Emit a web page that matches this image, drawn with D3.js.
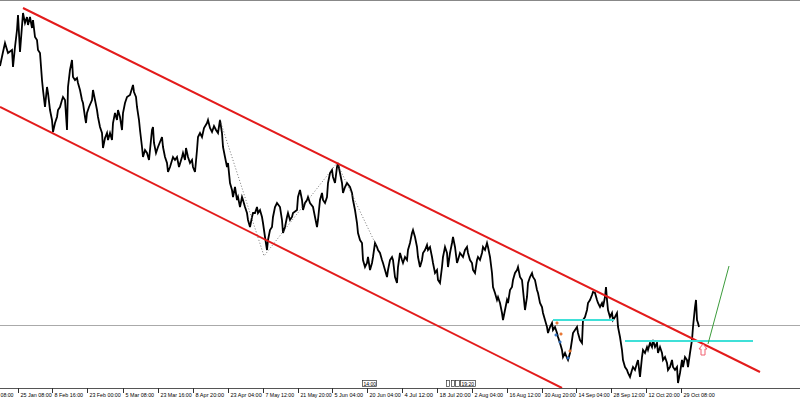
<!DOCTYPE html>
<html><head><meta charset="utf-8">
<script src="https://cdn.jsdelivr.net/npm/d3@7"></script>
<style>html,body{margin:0;padding:0;background:#fff;}svg{display:block;}</style>
</head><body>
<script>
// price series: [bar index, price]
const series = [
[0,334],[3,348],[5,357],[8,347],[12,350],[13,333],[15,353],[17,370],[18,385],[20,348],[23,387],[25,377],[27,383],[28,375],[30,383],[32,372],[33,380],[35,363],[37,360],[38,350],[40,347],[42,320],[43,310],[45,293],[47,313],[48,307],[50,290],[52,280],[53,268],[55,277],[57,283],[58,290],[60,293],[62,300],[63,303],[65,300],[67,270],[68,313],[70,330],[72,340],[73,323],[75,320],[77,322],[78,317],[80,310],[82,300],[83,297],[85,283],[86,277],[87,287],[89,293],[92,300],[93,310],[95,300],[97,290],[98,283],[100,273],[102,267],[103,252],[105,262],[107,267],[108,260],[110,267],[112,260],[113,277],[115,287],[117,280],[118,290],[120,283],[122,270],[123,287],[125,297],[127,303],[130,305],[133,315],[134,308],[136,303],[137,293],[139,280],[140,270],[142,253],[143,243],[145,250],[147,247],[149,240],[152,270],[153,273],[154,257],[156,247],[158,253],[162,263],[163,253],[165,243],[167,237],[168,228],[170,233],[173,243],[175,240],[177,243],[179,233],[182,243],[183,247],[185,240],[186,252],[188,243],[190,237],[192,240],[193,233],[195,228],[197,250],[198,263],
[200,267],[202,263],[204,272],[207,277],[208,280],[210,272],[212,268],[214,274],[216,270],[218,267],[220,280],[222,267],[223,253],[225,243],[227,233],[228,237],[230,217],[232,210],[233,203],[235,213],[237,200],[238,203],[240,193],[242,203],[243,200],[245,193],[247,187],[248,180],[250,173],[252,183],[253,187],[255,187],[257,193],[258,187],[260,190],[262,183],[263,177],[265,163],[267,150],[268,160],[270,170],[272,173],[273,183],[275,193],[277,197],[280,193],[282,180],[283,167],[285,173],[287,183],[288,187],[290,180],[292,183],[293,187],[297,190],[298,203],[300,210],[302,200],[303,190],[305,197],[307,200],[308,203],[310,197],[313,193],[315,183],[317,173],[318,180],[320,200],[322,207],[323,200],[325,197],[327,203],[328,217],[330,227],[332,230],[333,223],[335,217],[337,233],[338,237],[340,227],[342,217],[343,207],[345,213],[347,217],[350,213],[352,207],[353,200],[355,190],[357,177],[358,167],[360,160],[362,157],[363,140],[365,133],[367,137],[368,143],[370,130],[372,137],[373,143],[375,157],[377,153],[378,150],[380,147],[382,140],[383,137],[385,130],[387,123],[388,130],[390,140],[392,143],[393,140],[395,123],[397,117],[398,133],
[400,147],[402,140],[403,137],[405,143],[407,140],[408,150],[410,157],[412,167],[413,170],[415,163],[417,153],[418,143],[420,133],[422,140],[423,147],[425,150],[427,155],[428,150],[430,153],[432,143],[433,137],[435,127],[437,130],[438,120],[440,117],[442,133],[443,143],[445,153],[447,147],[448,133],[450,147],[452,157],[453,163],[455,153],[457,137],[458,140],[460,147],[463,143],[465,150],[467,153],[468,147],[470,140],[472,137],[473,130],[475,127],[477,140],[478,143],[480,140],[482,147],[483,153],[485,150],[487,157],[488,153],[490,143],[492,127],[493,113],[495,107],[497,100],[498,103],[500,97],[502,87],[503,80],[505,90],[507,100],[508,97],[510,110],[512,113],[513,120],[515,127],[517,130],[518,133],[520,123],[522,120],[523,110],[525,90],[527,103],[528,117],[530,123],[532,127],[533,123],[535,120],[537,110],[538,107],[540,97],[542,93],[543,87],[545,80],[547,73],[548,67],[550,73],[552,77],[553,70],[555,73],[557,67],[558,63],[560,57],[562,50],[563,43],[565,47],[567,42],[568,40],[570,47],[572,60],[573,67],[575,70],[577,73],[578,67],[580,60],[582,57],[583,80],[585,83],[587,90],[588,97],[590,100],[592,105],[593,108],[595,107],[597,100],[598,97],
[600,93],[602,97],[603,93],[605,103],[606,113],[607,100],[608,90],[610,83],[612,87],[613,80],[615,83],[617,87],[618,73],[620,63],[622,50],[623,40],[625,33],[627,30],[628,27],[630,23],[632,30],[633,33],[635,30],[637,37],[638,40],[640,23],[642,43],[643,50],[645,47],[647,53],[648,50],[650,57],[652,53],[653,60],[655,53],[657,57],[658,47],[660,53],[662,47],[663,40],[665,43],[667,37],[668,30],[670,33],[672,40],[673,33],[675,30],[677,33],[678,17],[680,27],[682,40],[683,33],[685,43],[687,40],[688,33],[690,47],[692,60],[693,73],[695,93],[696,100],[697,80],[698,77],[699,73]
];

const tickBars = [-17,18,52,87,123,158,193,228,263,298,332,367,402,437,472,507,542,576,611,646,681];
const tickLabels = ["08:00","25 Jan 08:00","8 Feb 16:00","23 Feb 00:00","5 Mar 08:00","23 Mar 16:00","8 Apr 20:00","23 Apr 04:00","7 May 12:00","21 May 20:00","5 Jun 04:00","20 Jun 04:00","4 Jul 12:00","18 Jul 20:00","2 Aug 04:00","16 Aug 12:00","30 Aug 20:00","14 Sep 04:00","28 Sep 12:00","12 Oct 20:00","29 Oct 08:00"];

const channelUpper = [[23,392],[760,28]];
const channelLower = [[0,293],[562,12]];
const bidLevel = 75;
const cyanLines = [[553,614,80],[625,753,59]];
const greenLine = [[708,56],[729,134]];
const zigzag = [[220,280],[264,144],[337,237],[377,153]];
const buyMarks = [[557,77],[561,66],[570,49]];
const sellMarks = [[556,65],[560,58],[568,42]];
const arrowMark = [703,56];

const W = 800, H = 400, plotB = 388;
const x = d3.scaleLinear().domain([0, 800]).range([0, W]);
const y = d3.scaleLinear().domain([12, 400]).range([plotB, 0]);

const svg = d3.select("body").append("svg").attr("width", W).attr("height", H);
svg.append("defs").append("clipPath").attr("id","plot")
  .append("rect").attr("x",0).attr("y",0).attr("width",W).attr("height",plotB);

const g = svg.append("g").attr("clip-path","url(#plot)");

// top frame
svg.append("line").attr("x1",0).attr("x2",W).attr("y1",0.5).attr("y2",0.5).attr("stroke","#888").attr("stroke-width",1);

// bid line
g.append("line").attr("x1",0).attr("x2",W).attr("y1",y(bidLevel)+0.5).attr("y2",y(bidLevel)+0.5)
  .attr("stroke","#aaa").attr("stroke-width",1);

// price
const line = d3.line().x(d=>x(d[0])).y(d=>y(d[1]));
g.append("path").datum(series).attr("d",line).attr("fill","none").attr("stroke","#000").attr("stroke-width",1.8).attr("stroke-linejoin","miter");

// zigzag dotted
g.append("path").datum(zigzag).attr("d",line).attr("fill","none").attr("stroke","#555").attr("stroke-width",0.8).attr("stroke-dasharray","1,2");

// channels
[channelUpper, channelLower].forEach(c=>{
  g.append("path").datum(c).attr("d",line).attr("fill","none").attr("stroke","#e31b1b").attr("stroke-width",2);
});

// cyan lines
cyanLines.forEach(c=>{
  g.append("line").attr("x1",x(c[0])).attr("x2",x(c[1])).attr("y1",y(c[2])).attr("y2",y(c[2]))
   .attr("stroke","#3fe0d8").attr("stroke-width",2);
});

// green line
g.append("path").datum(greenLine).attr("d",line).attr("fill","none").attr("stroke","#3c9c3c").attr("stroke-width",1);

// markers
buyMarks.forEach(m=>{
  g.append("path").attr("d",`M${x(m[0])-1.5},${y(m[1])}h3M${x(m[0])},${y(m[1])-1.5}v3`).attr("stroke","#e8702a").attr("stroke-width",1.5);
});
sellMarks.forEach(m=>{
  g.append("path").attr("d",`M${x(m[0])-1.5},${y(m[1])}h3M${x(m[0])},${y(m[1])-1.5}v3`).attr("stroke","#3070c0").attr("stroke-width",1.5);
});

// hollow up arrow
{
  const ax = x(arrowMark[0]), ay = y(arrowMark[1]);
  g.append("path").attr("d",`M${ax},${ay} L${ax+4},${ay+5} L${ax+2},${ay+5} L${ax+2},${ay+11} L${ax-2},${ay+11} L${ax-2},${ay+5} L${ax-4},${ay+5} Z`)
    .attr("fill","#fff").attr("stroke","#f06070").attr("stroke-width",1);
}

// axis
svg.append("line").attr("x1",0).attr("x2",W).attr("y1",plotB+0.5).attr("y2",plotB+0.5).attr("stroke","#555");
const ax = svg.append("g");
tickBars.forEach((b,i)=>{
  const tx = Math.round(x(b))+0.5;
  ax.append("line").attr("x1",tx).attr("x2",tx).attr("y1",plotB).attr("y2",plotB+5).attr("stroke","#333");
  const lbl = tickLabels[i];
  const t = ax.append("text").attr("x",Math.max(tx+2, 0.5)).attr("y",396.5).text(lbl)
    .attr("font-family","Liberation Sans, Arial, sans-serif").attr("font-size","6px").attr("fill","#000")
    .attr("textLength", lbl.length*2.6).attr("lengthAdjust","spacingAndGlyphs");
});

// small time boxes
function box(bx, w, label){
  svg.append("rect").attr("x",bx+0.5).attr("y",380.5).attr("width",w).attr("height",6).attr("fill","#fff").attr("stroke","#333").attr("stroke-width",0.7);
  if(label) svg.append("text").attr("x",bx+1.5).attr("y",385.5).text(label).attr("font-family","Liberation Sans, Arial, sans-serif").attr("font-size","5px");
}
box(x(362),14,"14:00");
box(x(446),3,"");
box(x(451),3,"");
box(x(455),4,"");
box(x(460),15,"19:20");
</script>
</body></html>
